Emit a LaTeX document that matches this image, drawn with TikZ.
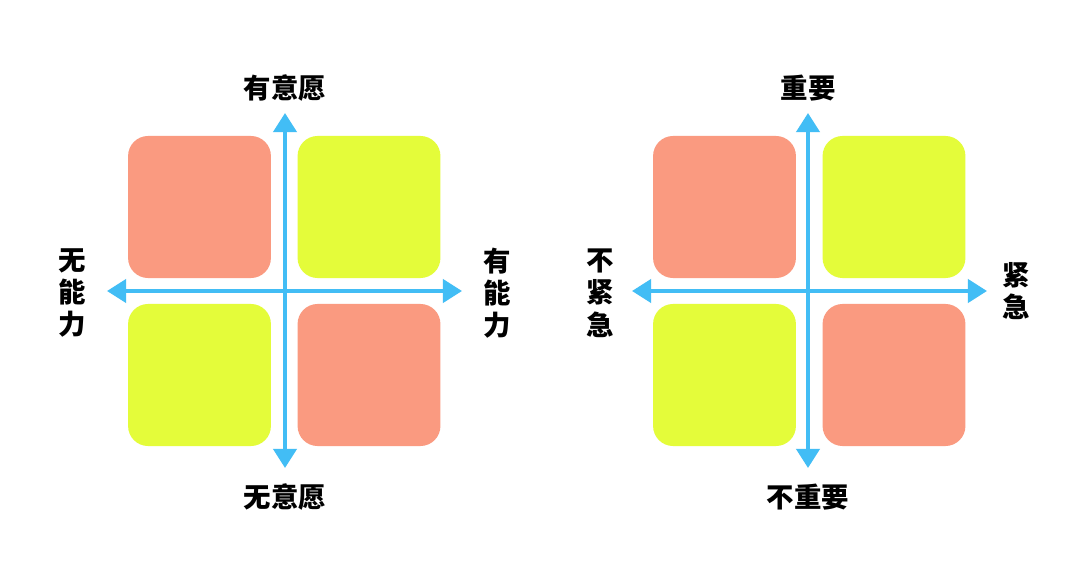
\documentclass[tikz,border=0pt]{standalone}
\usepackage{fontspec}
\newfontfamily\cjk{Noto Sans CJK SC}
\usepackage{xcolor}
\usetikzlibrary{arrows.meta, positioning}
\definecolor{salmon}{HTML}{FA9A80}
\definecolor{lime}{HTML}{E4FC3A}
\definecolor{axisblue}{HTML}{42BDF5}

\begin{document}
\begin{tikzpicture}[x=0.025cm, y=-0.025cm,
    quad/.style={rectangle, rounded corners=0.5cm, minimum width=3.57cm, minimum height=3.55cm, inner sep=0pt},
    hot/.style={quad, fill=salmon},
    cool/.style={quad, fill=lime},
    axis/.style={draw=axisblue, line width=2.8pt, {Triangle[width=0.58cm, length=0.48cm]}-{Triangle[width=0.58cm, length=0.48cm]}},
    lbl/.style={font=\cjk\bfseries\fontsize{19.5}{23}\selectfont, align=center, inner sep=0pt}
]
\useasboundingbox[fill=white] (0,0) rectangle (1075,564);

% willingness / ability
\node[hot] (wTL) at (199.5,207) {};
\node[cool] (wTR) at (369,207) {};
\node[cool] (wBL) at (199.5,375) {};
\node[hot] (wBR) at (369,375) {};

\coordinate (wN) at (285,113);
\coordinate (wS) at (285,468);
\coordinate (wW) at (107,291);
\coordinate (wE) at (462,291);
\draw[axis] (wS) -- (wN);
\draw[axis] (wW) -- (wE);

\node[lbl] (willing) at (285,88) {有意愿};
\node[lbl] (unwilling) at (285,497) {无意愿};
\node[lbl] (unable) at (72,293) {无\\能\\力};
\node[lbl] (able) at (497,293) {有\\能\\力};

% importance / urgency
\node[hot] (uTL) at (724.5,207) {};
\node[cool] (uTR) at (894,207) {};
\node[cool] (uBL) at (724.5,375) {};
\node[hot] (uBR) at (894,375) {};

\coordinate (uN) at (808,113);
\coordinate (uS) at (808,468);
\coordinate (uW) at (632,291);
\coordinate (uE) at (987,291);
\draw[axis] (uS) -- (uN);
\draw[axis] (uW) -- (uE);

\node[lbl] (important) at (808,88) {重要};
\node[lbl] (unimportant) at (808,497) {不重要};
\node[lbl] (noturgent) at (600,293) {不\\紧\\急};
\node[lbl] (urgent) at (1016,291) {紧\\急};
\end{tikzpicture}
\end{document}
